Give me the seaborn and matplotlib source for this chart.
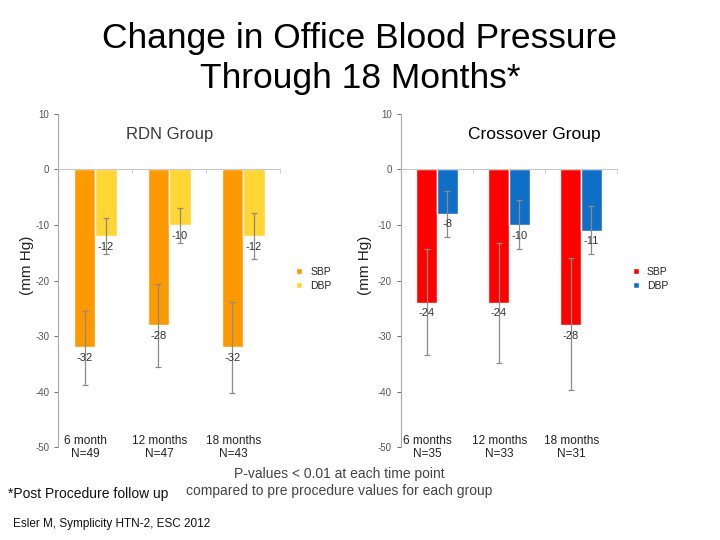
import numpy as np
import pandas as pd
import matplotlib
matplotlib.use("Agg")
import matplotlib.pyplot as plt
import seaborn as sns

# data
rdn_times = ["6 month", "12 months", "18 months"]
cross_times = ["6 months", "12 months", "18 months"]
rdn_n = [49, 47, 43]
cross_n = [35, 33, 31]

rdn_sbp = [-32, -28, -32]
rdn_dbp = [-12, -10, -12]
rdn_sbp_lo = [-38.8, -35.5, -40.2]
rdn_sbp_hi = [-25.5, -20.6, -23.9]
rdn_dbp_lo = [-15.2, -13.2, -16.1]
rdn_dbp_hi = [-8.7, -6.9, -7.9]

cross_sbp = [-24, -24, -28]
cross_dbp = [-8, -10, -11]
cross_sbp_lo = [-33.4, -34.8, -39.8]
cross_sbp_hi = [-14.4, -13.3, -16.0]
cross_dbp_lo = [-12.1, -14.4, -15.3]
cross_dbp_hi = [-3.8, -5.5, -6.5]

y_ticks = [10, 0, -10, -20, -30, -40, -50]

sns.set_style("white")
plt.rcParams['font.family'] = ['Liberation Sans', 'DejaVu Sans']

fig = plt.figure(figsize=(7.2, 5.4), dpi=100)


def draw_panel(ax, times, n, sbp, dbp, sbp_lo, sbp_hi, dbp_lo, dbp_hi, colors,
               title, title_x, title_kw, ylab_x):
    df = pd.DataFrame({
        'time': times * 2,
        'bp': ['SBP'] * 3 + ['DBP'] * 3,
        'value': sbp + dbp,
    })
    sns.barplot(data=df, x='time', y='value', hue='bp', palette=colors,
                width=0.58, saturation=1, ax=ax, errorbar=None)

    # asymmetric error bars and value labels
    vals = [sbp, dbp]
    los = [sbp_lo, dbp_lo]
    his = [sbp_hi, dbp_hi]
    bar_conts = list(ax.containers)
    for k, cont in enumerate(bar_conts):
        for i, bar in enumerate(cont.patches):
            xc = bar.get_x() + bar.get_width() / 2
            v = vals[k][i]
            ax.errorbar(xc, v, yerr=[[v - los[k][i]], [his[k][i] - v]],
                        fmt='none', ecolor='#8a8a8a', elinewidth=0.9,
                        capsize=2.5, capthick=0.9, zorder=3)
            ax.text(xc, v - 1.0, str(v), ha='center', va='top',
                    fontsize=8, color='#333333', zorder=4)

    ax.set_ylim(-50, 10)
    ax.set_xlim(-0.5, 2.5)
    ax.set_yticks(y_ticks)
    ax.set_yticklabels([str(t) for t in y_ticks])
    ax.tick_params(axis='y', labelsize=7, colors='#555555', length=3,
                   width=0.6, direction='out', left=True)
    ax.set_ylabel('(mm Hg)', fontsize=11, color='#222222')
    ax.yaxis.set_label_coords(ylab_x, 0.547)
    ax.set_xlabel('')

    for s in ['top', 'right']:
        ax.spines[s].set_visible(False)
    ax.spines['left'].set_color('#aaaaaa')
    ax.spines['left'].set_linewidth(0.8)
    ax.spines['bottom'].set_position(('data', 0))
    ax.spines['bottom'].set_color('#c8c8c8')
    ax.spines['bottom'].set_linewidth(0.8)
    ax.set_xticks([0.5, 1.5, 2.5])
    ax.set_xticklabels([])
    ax.tick_params(axis='x', length=3, width=0.6, colors='#c8c8c8',
                   direction='out', bottom=True)

    for i, t in enumerate(times):
        ax.text(i - 0.13, -50.1, f"{t}\nN={n[i]}", ha='center', va='center',
                fontsize=8.5, color='#222222', linespacing=1.05)

    ax.text(title_x, 0.937, title, transform=ax.transAxes, ha='center',
            va='center', **title_kw)

    leg = ax.legend(loc='center left', bbox_to_anchor=(1.03, 0.505),
                    frameon=False, fontsize=7.5, handlelength=0.55,
                    handleheight=0.55, handletextpad=0.8, labelspacing=0.35)
    for txt in leg.get_texts():
        txt.set_color('#222222')


ax1 = fig.add_axes([0.081, 0.172, 0.308, 0.617])
draw_panel(ax1, rdn_times, rdn_n, rdn_sbp, rdn_dbp, rdn_sbp_lo, rdn_sbp_hi,
           rdn_dbp_lo, rdn_dbp_hi, ['#ff9900', '#ffd633'], 'RDN Group', 0.5,
           dict(fontsize=12, color='#3a3a3a'), -0.11)

ax2 = fig.add_axes([0.557, 0.172, 0.300, 0.617])
draw_panel(ax2, cross_times, cross_n, cross_sbp, cross_dbp, cross_sbp_lo,
           cross_sbp_hi, cross_dbp_lo, cross_dbp_hi, ['#ff0000', '#0f6fc6'],
           'Crossover Group', 0.616, dict(fontsize=12.5, color='#000000'),
           -0.134)

fig.text(0.5, 0.929, 'Change in Office Blood Pressure', ha='center', va='center',
         fontsize=25.5, color='#000000')
fig.text(0.5, 0.855, 'Through 18 Months*', ha='center', va='center',
         fontsize=25.5, color='#000000')

fig.text(0.011, 0.085, '*Post Procedure follow up', ha='left', va='center',
         fontsize=10, color='#111111')
fig.text(0.471, 0.122, 'P-values < 0.01 at each time point', ha='center',
         va='center', fontsize=10, color='#444444')
fig.text(0.471, 0.09, 'compared to pre procedure values for each group',
         ha='center', va='center', fontsize=10, color='#444444')
fig.text(0.018, 0.03, 'Esler M, Symplicity HTN-2, ESC 2012', ha='left',
         va='center', fontsize=8.5, color='#111111')

fig.savefig('out.png', dpi=100)
